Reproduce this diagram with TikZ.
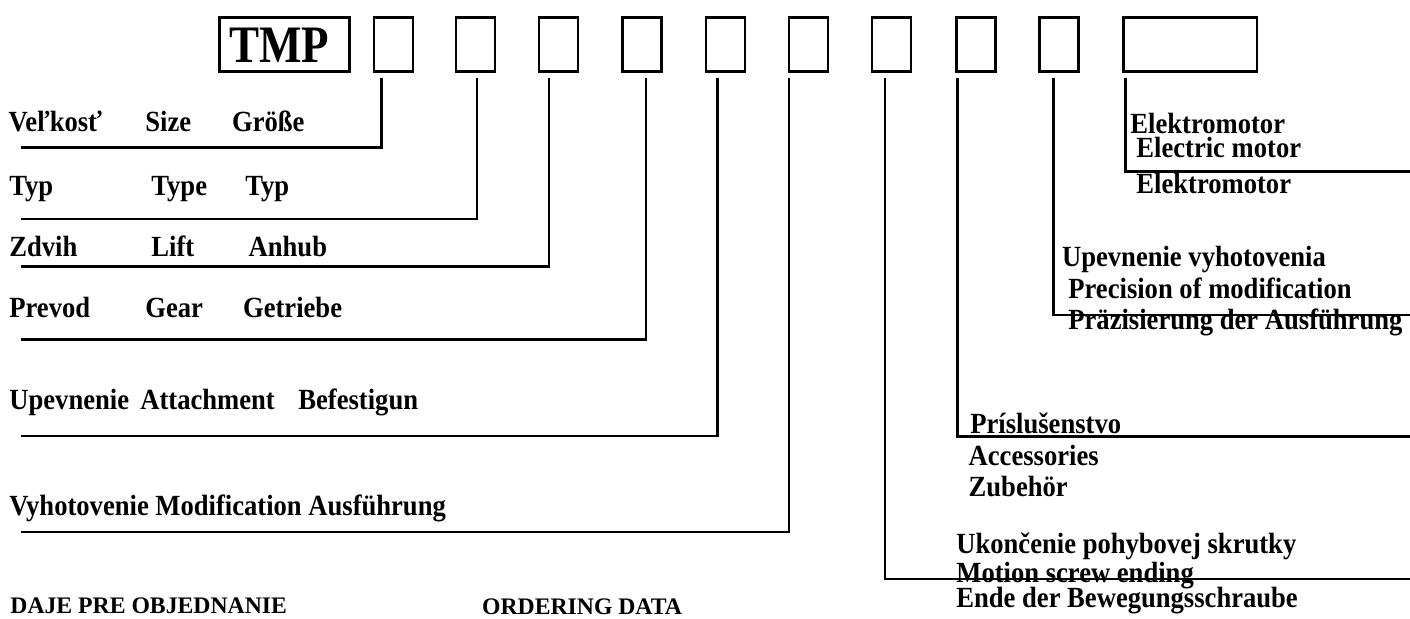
\documentclass[tikz,border=0pt]{standalone}
\usepackage{fontspec}
\setmainfont{Liberation Serif}
\usetikzlibrary{calc}
\newcommand\vstretch[1]{\scalebox{1}[1.1]{#1}}
\tikzset{
  box/.style={draw,line width=1.25pt,minimum width=19.5pt,minimum height=27pt,inner sep=0pt,anchor=north west},
  lbl/.style={anchor=base west,inner sep=0pt,font=\fontsize{13.3}{16}\selectfont\bfseries},
  ttl/.style={anchor=base west,inner sep=0pt,font=\fontsize{11.85}{14}\selectfont\bfseries},
  conn/.style={line width=1.25pt}
}
\begin{document}
\begin{tikzpicture}[x=0.5pt,y=-0.5pt]
\useasboundingbox (0,0) rectangle (1410,618);
% boxes
\node[box,minimum width=65pt] (tmp) at (218,16) {};
\node[anchor=center,inner sep=0pt,font=\fontsize{22.5}{26}\selectfont\bfseries] (tmptxt) at ($(tmp.center)+(-5,1)$) {\scalebox{1}[1.17]{TMP}};
\node[box] (b1) at (372.5,16) {};
\node[box] (b2) at (454.5,16) {};
\node[box] (b3) at (537.5,16) {};
\node[box] (b4) at (621,16) {};
\node[box] (b5) at (704.5,16) {};
\node[box] (b6) at (787.5,16) {};
\node[box] (b7) at (870.5,16) {};
\node[box] (b8) at (955,16) {};
\node[box] (b9) at (1038,16) {};
\node[box,minimum width=66.75pt] (b10) at (1122,16) {};
% free ends
\coordinate (l1) at (20.7,147.3);
\coordinate (l2) at (20.7,219);
\coordinate (l3) at (20.7,266.7);
\coordinate (l4) at (20.7,339.3);
\coordinate (l5) at (20.7,436);
\coordinate (l6) at (20.7,532);
\coordinate (r7) at (1410,579);
\coordinate (r8) at (1410,436.7);
\coordinate (r9) at (1410,315);
\coordinate (r10) at (1410,171.5);
% connectors
\draw[conn] ($(b1.south west)+(9.2,5)$) |- (l1);
\draw[conn] ($(b2.south west)+(22.5,5)$) |- (l2);
\draw[conn] ($(b3.south west)+(11.5,5)$) |- (l3);
\draw[conn] ($(b4.south west)+(25,5)$) |- (l4);
\draw[conn] ($(b5.south west)+(13.2,5)$) |- (l5);
\draw[conn] ($(b6.south west)+(1.5,5)$) |- (l6);
\draw[conn] ($(b7.south west)+(14.5,5)$) |- (r7);
\draw[conn] ($(b8.south west)+(2.5,5)$) |- (r8);
\draw[conn] ($(b9.south west)+(15.5,5)$) |- (r9);
\draw[conn] ($(b10.south west)+(3.5,5)$) |- (r10);
% left labels
\node[lbl] (t1a) at (8.3,131) {\vstretch{Veľkosť}};
\node[lbl] (t1b) at (145,131) {\vstretch{Size}};
\node[lbl] (t1c) at (231.7,131) {\vstretch{Größe}};
\node[lbl] (t2a) at (9,195) {\vstretch{Typ}};
\node[lbl] (t2b) at (151,195) {\vstretch{Type}};
\node[lbl] (t2c) at (245,195) {\vstretch{Typ}};
\node[lbl] (t3a) at (9,256) {\vstretch{Zdvih}};
\node[lbl] (t3b) at (151,256) {\vstretch{Lift}};
\node[lbl] (t3c) at (248.3,256) {\vstretch{Anhub}};
\node[lbl] (t4a) at (9,317.3) {\vstretch{Prevod}};
\node[lbl] (t4b) at (145,317.3) {\vstretch{Gear}};
\node[lbl] (t4c) at (242.7,317.3) {\vstretch{Getriebe}};
\node[lbl] (t5a) at (9,409.3) {\vstretch{Upevnenie}};
\node[lbl] (t5b) at (140,409.3) {\vstretch{Attachment}};
\node[lbl] (t5c) at (298,409.3) {\vstretch{Befestigun}};
\node[lbl] (t6) at (9,515.7) {\vstretch{Vyhotovenie Modification Ausführung}};
\node[ttl] (h1) at (10,613) {DAJE PRE OBJEDNANIE};
\node[ttl] (h2) at (481.7,614) {ORDERING DATA};
% right labels
\node[lbl] (e1) at (1130,133.3) {\vstretch{Elektromotor}};
\node[lbl] (e2) at (1136,157.3) {\vstretch{Electric motor}};
\node[lbl] (e3) at (1136,193) {\vstretch{Elektromotor}};
\node[lbl] (p1) at (1061.7,266) {\vstretch{Upevnenie vyhotovenia}};
\node[lbl] (p2) at (1068,298.3) {\vstretch{Precision of modification}};
\node[lbl] (p3) at (1068,329.3) {\vstretch{Präzisierung der Ausführung}};
\node[lbl] (a1) at (970,433.3) {\vstretch{Príslušenstvo}};
\node[lbl] (a2) at (968.3,465) {\vstretch{Accessories}};
\node[lbl] (a3) at (968.3,496) {\vstretch{Zubehör}};
\node[lbl] (m1) at (956,553.3) {\vstretch{Ukončenie pohybovej skrutky}};
\node[lbl] (m2) at (956,582) {\vstretch{Motion screw ending}};
\node[lbl] (m3) at (956,607.3) {\vstretch{Ende der Bewegungsschraube}};
\end{tikzpicture}
\end{document}
